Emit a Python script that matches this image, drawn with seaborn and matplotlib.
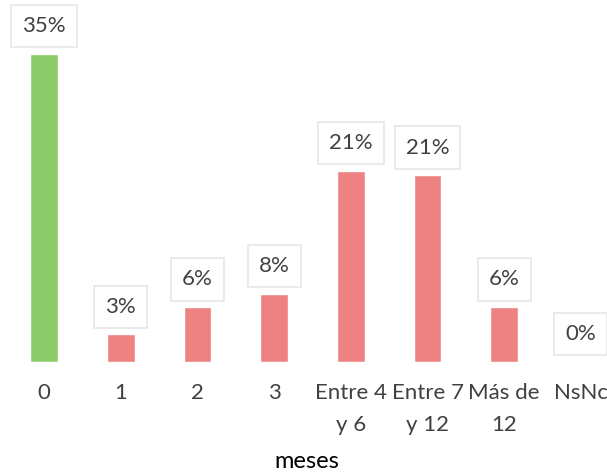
import matplotlib
matplotlib.use("Agg")
import matplotlib.pyplot as plt
import matplotlib.patheffects as pe
import seaborn as sns
import pandas as pd

categories = ["0", "1", "2", "3", "Entre 4\ny 6", "Entre 7\ny 12", "Más de\n12", "NsNc"]
valores = [35, 3.1, 6.2, 7.7, 21.7, 21.2, 6.2, 0]
etiquetas = ["35%", "3%", "6%", "8%", "21%", "21%", "6%", "0%"]
colores = ["#8CCB69", "#EE8282", "#EE8282", "#EE8282", "#EE8282", "#EE8282", "#EE8282", "#EE8282"]

sns.set_style("white")
plt.rcParams['font.family'] = ['Lato', 'DejaVu Sans']

df = pd.DataFrame({"meses": categories, "valor": valores})

fig = plt.figure(figsize=(6.07, 4.72), dpi=100)
ax = fig.add_axes([0, 110.3 / 472, 1, 351.7 / 472])
sns.barplot(data=df, x="meses", y="valor", hue="meses", palette=colores,
            legend=False, width=0.36, ax=ax, saturation=1)

shadow = [pe.SimplePatchShadow(offset=(0.6, -0.6), shadow_rgbFace="#bbbbbb", alpha=0.3), pe.Normal()]
for p in ax.patches:
    p.set_path_effects(shadow)

for i, (v, t) in enumerate(zip(valores, etiquetas)):
    ax.annotate(t, (i, v), xytext=(0, 20), textcoords="offset points",
                ha="center", va="center", fontsize=16, color="#404040",
                bbox=dict(boxstyle="square,pad=0.5", fc="white", ec="#e6e6e6", lw=1.2))

ax.set_xlim(-0.574, 7.34)
ax.set_ylim(0, 40)
ax.set_yticks([])
ax.set_ylabel("")
ax.set_xlabel("")
for s in ax.spines.values():
    s.set_visible(False)
ax.tick_params(axis="x", length=0, pad=15, labelsize=16, labelcolor="#404040")
for lbl in ax.get_xticklabels():
    lbl.set_linespacing(1.8)
fig.text(0.505, 10 / 472, "meses", ha="center", va="center", fontsize=17, color="#000000")

fig.savefig("out.png", dpi=100)
